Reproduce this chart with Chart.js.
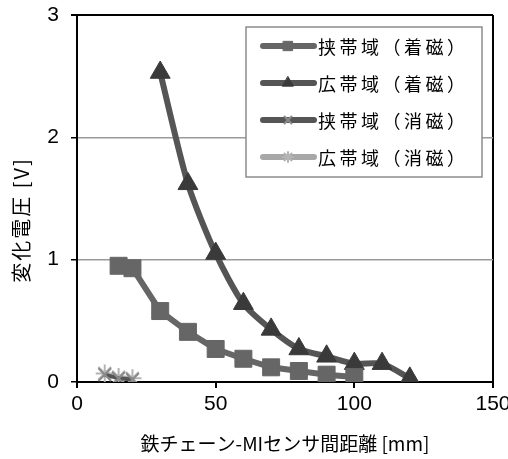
<!DOCTYPE html>
<html>
<head>
<meta charset="utf-8">
<script src="https://cdn.jsdelivr.net/npm/chart.js@4"></script>
<style>
  html, body { margin: 0; padding: 0; background: #fff; }
  #wrap { width: 508px; height: 459px; }
</style>
</head>
<body>
<div id="wrap"><canvas id="graf" width="508" height="459"></canvas></div>
<script>
// distancia [mm] e tensao [V]
var labels = ['挟帯域（着磁）', '広帯域（着磁）', '挟帯域（消磁）', '広帯域（消磁）'];
var xEstreitoMag = [15, 20, 30, 40, 50, 60, 70, 80, 90, 100];
var yEstreitoMag = [0.95, 0.93, 0.58, 0.41, 0.27, 0.19, 0.12, 0.09, 0.06, 0.04];
var xLargoMag = [30, 40, 50, 60, 70, 80, 90, 100, 110, 120];
var yLargoMag = [2.53, 1.62, 1.05, 0.64, 0.43, 0.27, 0.21, 0.15, 0.15, 0.03];
var xEstreitoDes = [10, 15, 20];
var yEstreitoDes = [0.06, 0.03, 0.02];
var xLargoDes = [10, 15, 20];
var yLargoDes = [0.07, 0.04, 0.03];
var xTicks = [0, 50, 100, 150];
var yTicks = [0, 1, 2, 3];
var tituloX = '鉄チェーン-MIセンサ間距離 [mm]';
var tituloY = '変化電圧 [V]';

var fonteJp = '"Noto Sans CJK JP", "Noto Sans", sans-serif';
var fonteNum = '"Liberation Sans", Arial, sans-serif';

function pontos(xs, ys) {
    return xs.map(function (x, i) { return {x: x, y: ys[i]}; });
}

var series = [
    {label: labels[0], data: pontos(xEstreitoMag, yEstreitoMag), borderColor: '#666666',
        backgroundColor: '#666666', pointBorderColor: '#666666', pointStyle: 'rect',
        pointRadius: 12, pointBorderWidth: 1, borderWidth: 6, tension: 0},
    {label: labels[1], data: pontos(xLargoMag, yLargoMag), borderColor: '#555555',
        backgroundColor: '#3a3a3a', pointBorderColor: '#3a3a3a', pointStyle: 'triangle',
        pointRadius: 11.5, pointBorderWidth: 1, borderWidth: 6, tension: 0.25},
    {label: labels[2], data: pontos(xEstreitoDes, yEstreitoDes), borderColor: '#555555',
        backgroundColor: '#8a8a8a', pointBorderColor: '#8a8a8a', pointStyle: 'crossRot',
        pointRadius: 9, pointBorderWidth: 2, borderWidth: 4, tension: 0},
    {label: labels[3], data: pontos(xLargoDes, yLargoDes), borderColor: '#a8a8a8',
        backgroundColor: '#b4b4b4', pointBorderColor: '#b4b4b4', pointStyle: 'star',
        pointRadius: 9, pointBorderWidth: 2, borderWidth: 4, tension: 0}
];

// legenda dentro da area do grafico, com linha + marcador
var legendaInterna = {
    id: 'legendaInterna',
    afterDraw: function (chart) {
        var ctx = chart.ctx;
        var x0 = 246, y0 = 27, w = 236, h = 150;
        ctx.save();
        ctx.fillStyle = '#fff';
        ctx.fillRect(x0, y0, w, h);
        ctx.strokeStyle = '#8c8c8c';
        ctx.lineWidth = 1.5;
        ctx.strokeRect(x0, y0, w, h);
        chart.data.datasets.forEach(function (ds, i) {
            var y = 46 + i * 37;
            ctx.strokeStyle = ds.borderColor;
            ctx.lineWidth = 6;
            ctx.lineCap = 'round';
            ctx.beginPath();
            ctx.moveTo(263, y);
            ctx.lineTo(314, y);
            ctx.stroke();
            ctx.fillStyle = ds.backgroundColor;
            ctx.strokeStyle = ds.pointBorderColor;
            ctx.lineWidth = ds.pointBorderWidth;
            Chart.helpers.drawPoint(ctx, {pointStyle: ds.pointStyle, radius: ds.pointRadius * 0.55,
                borderWidth: ds.pointBorderWidth}, 288, y);
            ctx.fillStyle = '#000';
            ctx.font = '18px ' + fonteJp;
            ctx.letterSpacing = '3.5px';
            ctx.textAlign = 'left';
            ctx.textBaseline = 'middle';
            ctx.fillText(ds.label, 318, y + 1);
        });
        ctx.restore();
    }
};

// titulo do eixo y, rotacionado
var tituloEixoY = {
    id: 'tituloEixoY',
    afterDraw: function (chart) {
        var ctx = chart.ctx;
        ctx.save();
        ctx.translate(21, 220);
        ctx.rotate(-Math.PI / 2);
        ctx.fillStyle = '#000';
        ctx.font = '20px ' + fonteJp;
        ctx.letterSpacing = '2px';
        ctx.textAlign = 'center';
        ctx.textBaseline = 'middle';
        ctx.fillText(tituloY, 0, 0);
        ctx.restore();
    }
};

new Chart(document.getElementById('graf'), {
    type: 'line',
    data: {datasets: series},
    plugins: [legendaInterna, tituloEixoY],
    options: {
        responsive: false,
        animation: false,
        layout: {padding: {top: 15, right: 15, left: 0, bottom: 0}},
        plugins: {
            legend: {display: false},
            tooltip: {enabled: false}
        },
        scales: {
            x: {
                type: 'linear',
                min: 0,
                max: 150,
                afterBuildTicks: function (scale) {
                    scale.ticks = xTicks.map(function (v) { return {value: v}; });
                },
                afterFit: function (scale) {
                    scale.height = 77;
                    scale.paddingLeft = 0;
                    scale.paddingRight = 0;
                },
                ticks: {color: '#000', font: {family: fonteNum, size: 21}, padding: 4},
                grid: {
                    color: function (c) { return c.tick && c.tick.value === 150 ? '#000' : 'rgba(0,0,0,0)'; },
                    lineWidth: 2,
                    tickColor: '#000',
                    tickLength: 6
                },
                border: {color: '#000', width: 2},
                title: {display: true, text: tituloX, color: '#000',
                    font: {family: fonteJp, size: 19}, padding: {top: 2}}
            },
            y: {
                min: 0,
                max: 3,
                afterBuildTicks: function (scale) {
                    scale.ticks = yTicks.map(function (v) { return {value: v}; });
                },
                afterFit: function (scale) {
                    scale.width = 77;
                    scale.paddingTop = 0;
                    scale.paddingBottom = 0;
                },
                ticks: {color: '#000', font: {family: fonteNum, size: 21}, padding: 12},
                grid: {
                    color: function (c) {
                        if (!c.tick) return '#999';
                        return c.tick.value === 3 ? '#000' : '#9a9a9a';
                    },
                    lineWidth: function (c) { return c.tick && c.tick.value === 3 ? 2 : 1.5; },
                    tickColor: '#000',
                    tickLength: 6
                },
                border: {color: '#000', width: 2}
            }
        }
    }
});
</script>
</body>
</html>
